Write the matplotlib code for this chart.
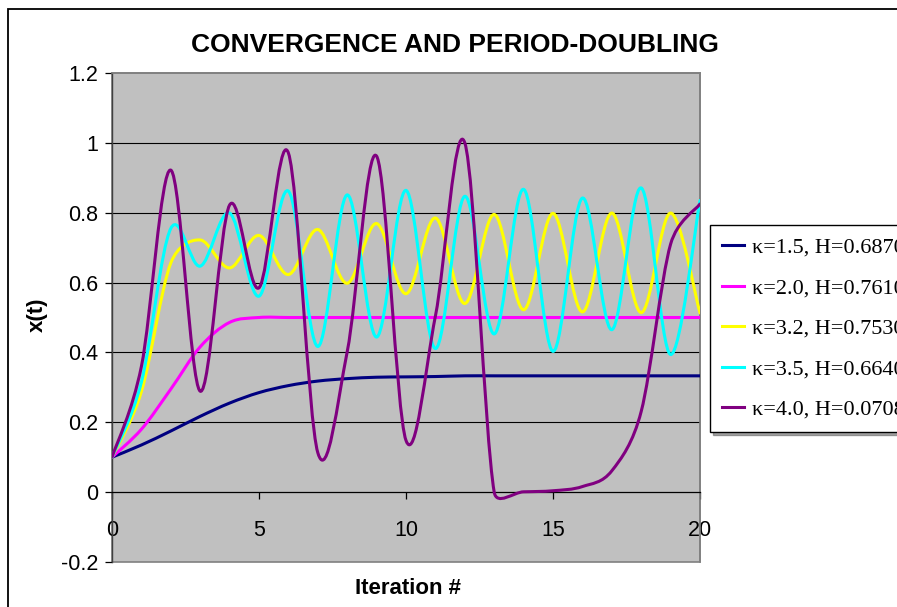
import matplotlib
matplotlib.use("Agg")
import matplotlib.pyplot as plt
from matplotlib.path import Path
from matplotlib.patches import PathPatch, Rectangle
from matplotlib.lines import Line2D
import numpy as np

# iterations and x(t) values
iters = list(range(21))
k15 = [0.100, 0.135, 0.175, 0.217, 0.255, 0.285, 0.305, 0.318, 0.325, 0.329, 0.330,
       0.331, 0.333, 0.333, 0.333, 0.333, 0.333, 0.333, 0.333, 0.333, 0.333]
k20 = [0.100, 0.180, 0.295, 0.416, 0.486, 0.500, 0.500, 0.500, 0.500, 0.500, 0.500,
       0.500, 0.500, 0.500, 0.500, 0.500, 0.500, 0.500, 0.500, 0.500, 0.500]
k32 = [0.100, 0.288, 0.656, 0.722, 0.642, 0.735, 0.623, 0.752, 0.598, 0.769, 0.568,
       0.785, 0.540, 0.795, 0.522, 0.798, 0.516, 0.799, 0.514, 0.799, 0.513]
k35 = [0.100, 0.315, 0.755, 0.647, 0.799, 0.561, 0.862, 0.417, 0.851, 0.444, 0.864,
       0.411, 0.847, 0.453, 0.867, 0.403, 0.842, 0.465, 0.871, 0.394, 0.835]
k40 = [0.100, 0.360, 0.922, 0.289, 0.822, 0.585, 0.971, 0.113, 0.402, 0.962, 0.148,
       0.504, 1.000, 0.000, 0.001, 0.004, 0.016, 0.061, 0.231, 0.710, 0.825]

labels = ["\u03ba=1.5, H=0.6870", "\u03ba=2.0, H=0.7610", "\u03ba=3.2, H=0.7530",
          "\u03ba=3.5, H=0.6640", "\u03ba=4.0, H=0.0708"]
series = [k15, k20, k32, k35, k40]
colors = ["#000080", "#FF00FF", "#FFFF00", "#00FFFF", "#800080"]

W, H = 897, 607
fig = plt.figure(figsize=(W / 100, H / 100), dpi=100)
ax = fig.add_axes([112 / W, 1 - 562 / H, 588 / W, 489 / H])
ax.set_xlim(0, 20)
ax.set_ylim(-0.2, 1.2)
ax.set_facecolor("#C0C0C0")

# pixel scale of data units, used by the excel-like smoothing
sx = 588 / 20.0
sy = 489 / 1.4


def smooth_path(xs, ys):
    # bezier through points, handles capped at half segment length (excel style)
    p = np.column_stack([xs, ys]).astype(float)
    n = len(p)
    def d(a, b):
        return np.hypot((a[0] - b[0]) * sx, (a[1] - b[1]) * sy)
    verts = [p[0]]
    codes = [Path.MOVETO]
    for i in range(n - 1):
        p0 = p[i - 1] if i > 0 else p[i]
        p1 = p[i]
        p2 = p[i + 1]
        p3 = p[i + 2] if i + 2 < n else p[i + 1]
        d12 = d(p1, p2)
        d02 = d(p0, p2)
        d13 = d(p1, p3)
        f1 = 1 / 6.0
        if d02 > 0 and d02 / 6.0 > d12 / 2.0:
            f1 = d12 / (2.0 * d02)
        f2 = 1 / 6.0
        if d13 > 0 and d13 / 6.0 > d12 / 2.0:
            f2 = d12 / (2.0 * d13)
        b1 = p1 + (p2 - p0) * f1
        b2 = p2 - (p3 - p1) * f2
        verts += [b1, b2, p2]
        codes += [Path.CURVE4] * 3
    return Path(verts, codes)


for ys, c in zip(series, colors):
    patch = PathPatch(smooth_path(iters, ys), facecolor="none", edgecolor=c,
                      lw=2.2, zorder=3, capstyle="round", joinstyle="round")
    ax.add_patch(patch)

# gridlines
for g in [0.2, 0.4, 0.6, 0.8, 1.0]:
    ax.axhline(g, color="black", lw=0.8, zorder=1)

# spines: x axis crosses at 0
ax.spines["bottom"].set_position(("data", 0))
ax.spines["bottom"].set_color("black")
ax.spines["bottom"].set_linewidth(0.9)
ax.spines["left"].set_color("#404040")
ax.spines["left"].set_linewidth(1.0)
for s in ["top", "right"]:
    ax.spines[s].set_color("#808080")
    ax.spines[s].set_linewidth(1.2)
ax.add_patch(Rectangle((0, 0), 1, 1, transform=ax.transAxes, fill=False,
                       edgecolor="#808080", lw=1.2, zorder=0.5, clip_on=False))

ax.set_xticks([0, 5, 10, 15, 20])
ax.set_yticks([-0.2, 0, 0.2, 0.4, 0.6, 0.8, 1, 1.2])
ax.set_yticklabels(["-0.2", "0", "0.2", "0.4", "0.6", "0.8", "1", "1.2"])
ax.tick_params(axis="x", direction="out", length=5, width=0.9, pad=15,
               labelsize=15.5)
ax.tick_params(axis="y", direction="out", length=5, width=0.9, pad=5,
               labelsize=15.5)
for t in ax.get_xticklabels() + ax.get_yticklabels():
    t.set_fontfamily("Liberation Sans")

fig.text(455 / W, 1 - 45 / H, "CONVERGENCE AND PERIOD-DOUBLING",
         ha="center", va="center", fontsize=19, fontweight="bold",
         family="Liberation Sans")
fig.text(37 / W, 1 - 315 / H, "x(t)", rotation=90, ha="center", va="center",
         fontsize=16, fontweight="bold", family="Liberation Sans")
fig.text(408 / W, 1 - 588 / H, "Iteration #", ha="center", va="center",
         fontsize=16, fontweight="bold", family="Liberation Sans")

# chart border (runs off the right and bottom edges)
fig.add_artist(Rectangle((8 / W, -0.1), 2.0, 1.1 - 9 / H, transform=fig.transFigure,
                         fill=False, edgecolor="black", lw=1.3))

handles = [Line2D([], [], color=c, lw=2.2) for c in colors]
leg = fig.legend(handles, labels, loc="upper left",
                 bbox_to_anchor=(710 / W, 1 - 225 / H), borderaxespad=0,
                 prop={"family": "Liberation Serif", "size": 16},
                 handlelength=1.0, handletextpad=0.35, labelspacing=0.9,
                 borderpad=0.55, fancybox=False, shadow=True, framealpha=1)
leg.get_frame().set_edgecolor("black")
leg.get_frame().set_linewidth(1.0)

fig.savefig("out.png", dpi=100)
